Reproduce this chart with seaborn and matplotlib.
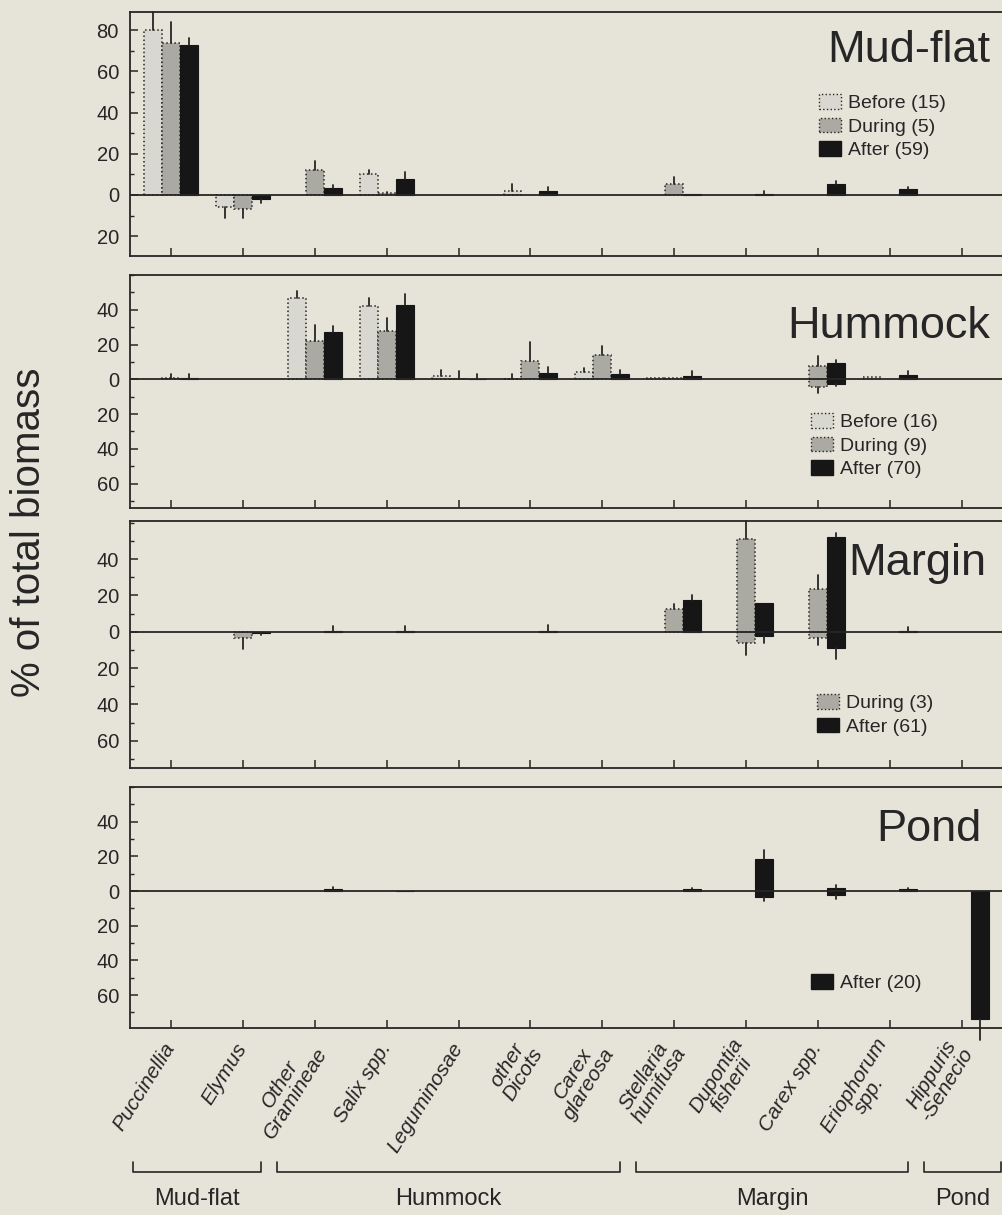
import pandas as pd
import matplotlib
matplotlib.use('Agg')
import matplotlib.pyplot as plt
import matplotlib.transforms as mtransforms
from matplotlib.patches import Patch
from matplotlib.ticker import MultipleLocator, FuncFormatter
import seaborn as sns

# species groups along the x axis
categories = ['Puccinellia', 'Elymus', 'Other\nGramineae', 'Salix spp.', 'Leguminosae',
              'other\nDicots', 'Carex\nglareosa', 'Stellaria\nhumifusa', 'Dupontia\nfisherii',
              'Carex spp.', 'Eriophorum\nspp.', 'Hippuris\n-Senecio']
series_order = ['Before', 'During', 'After']

# habitat groups shown with brackets under the axis (first / last category index)
regions = ['Mud-flat', 'Hummock', 'Margin', 'Pond']
region_first = [0, 2, 7, 11]
region_last = [1, 6, 10, 11]

# Mud-flat panel (values above zero, values below zero, one-sided errors)
mud_up = {'Before': [80, 0, 0, 10, 0, 2, 0, 0, 0, 0, 0, 0],
          'During': [74, 0, 12, 0.8, 0, 0, 0, 5.5, 0, 0, 0, 0],
          'After':  [73, 0, 3.5, 8, 0, 2, 0, 0.5, 0.7, 5.5, 3, 0]}
mud_up_err = {'Before': [9, 0, 0, 2, 0, 3.5, 0, 0, 0, 0, 0, 0],
              'During': [10, 0, 4.5, 0.7, 0, 0, 0, 3, 0, 0, 0, 0],
              'After':  [3, 0, 1.5, 3, 0, 2, 0, 0, 1, 1.5, 1, 0]}
mud_dn = {'Before': [0, 6, 0, 0, 0, 0, 0, 0, 0, 0, 0, 0],
          'During': [0, 7, 0, 0, 0, 0, 0, 0, 0, 0, 0, 0],
          'After':  [0, 2, 0, 0, 0, 0, 0, 0, 0, 0, 0, 0]}
mud_dn_err = {'Before': [0, 5, 0, 0, 0, 0, 0, 0, 0, 0, 0, 0],
              'During': [0, 4, 0, 0, 0, 0, 0, 0, 0, 0, 0, 0],
              'After':  [0, 2, 0, 0, 0, 0, 0, 0, 0, 0, 0, 0]}
mud_legend = ['Before (15)', 'During (5)', 'After (59)']

# Hummock panel
hum_up = {'Before': [0, 0, 47, 42, 2, 0.3, 4.2, 1, 0, 0, 1.5, 0],
          'During': [0.5, 0, 22, 28, 0.2, 10.7, 14, 0.5, 0, 7.5, 0, 0],
          'After':  [1, 0, 27, 43, 0.2, 3.8, 3.3, 2, 0, 9.4, 2.3, 0]}
hum_up_err = {'Before': [0, 0, 4, 5, 3.5, 3, 2.5, 0, 0, 0, 0, 0],
              'During': [2.7, 0, 9, 7, 4.8, 11, 5, 0, 0, 5.7, 0, 0],
              'After':  [2.3, 0, 3.5, 6, 3, 3.2, 2, 2.6, 0, 2, 2.3, 0]}
hum_dn = {'Before': [0, 0, 0, 0, 0, 0, 0, 0, 0, 0, 0, 0],
          'During': [0, 0, 0, 0, 0, 0, 0, 0, 0, 4.4, 0, 0],
          'After':  [0, 0, 0, 0, 0, 0, 0, 0, 0, 2.5, 0, 0]}
hum_dn_err = {'Before': [0, 0, 0, 0, 0, 0, 0, 0, 0, 0, 0, 0],
              'During': [0, 0, 0, 0, 0, 0, 0, 0, 0, 3.3, 0, 0],
              'After':  [0, 0, 0, 0, 0, 0, 0, 0, 0, 1.3, 0, 0]}
hum_legend = ['Before (16)', 'During (9)', 'After (70)']

# Margin panel
mar_up = {'During': [0, 0, 0, 0, 0, 0, 0, 12.4, 51, 23.3, 0, 0],
          'After':  [0, 0, 0.5, 0.5, 0, 0.5, 0, 17.6, 15.8, 52, 0.5, 0]}
mar_up_err = {'During': [0, 0, 0, 0, 0, 0, 0, 3, 10, 8, 0, 0],
              'After':  [0, 0, 2.5, 2.5, 0, 3, 0, 2.8, 0, 2.2, 2, 0]}
mar_dn = {'During': [0, 3.3, 0, 0, 0, 0, 0, 0, 6.4, 3.3, 0, 0],
          'After':  [0, 0.5, 0, 0, 0, 0, 0, 0, 2.4, 8.7, 0, 0]}
mar_dn_err = {'During': [0, 6.3, 0, 0, 0, 0, 0, 0, 6.6, 4, 0, 0],
              'After':  [0, 1.5, 0, 0, 0, 0, 0, 0, 3.6, 6.2, 0, 0]}
mar_legend = ['During (3)', 'After (61)']

# Pond panel
pond_up = {'After': [0, 0, 1.3, 0.3, 0, 0, 0, 1, 18.3, 1.5, 1.2, 0]}
pond_up_err = {'After': [0, 0, 0.8, 0, 0, 0, 0, 0.8, 5.3, 2, 0.8, 0]}
pond_dn = {'After': [0, 0, 0, 0, 0, 0, 0, 0, 3.3, 2.3, 0, 74]}
pond_dn_err = {'After': [0, 0, 0, 0, 0, 0, 0, 0, 2.3, 2.3, 0, 12]}
pond_legend = ['After (20)']

panel_titles = ['Mud-flat', 'Hummock', 'Margin', 'Pond']

sns.set_theme(style='ticks')
plt.rcParams['font.family'] = ['Liberation Sans', 'DejaVu Sans']

BG = '#e6e3d9'
INK = '#262626'
fill = {'Before': '#d9d8d0', 'During': '#aaa9a2', 'After': '#161616'}
offset = {'Before': -0.25, 'During': 0.0, 'After': 0.25}

W, H = 1002, 1215
fig = plt.figure(figsize=(W / 100, H / 100), dpi=100, facecolor=BG)
plt.rcParams['axes.facecolor'] = BG


def px_box(top, bottom, left=130, right=1012):
    return [left / W, 1 - bottom / H, (right - left) / W, (bottom - top) / H]


def long_frame(up, up_err, dn, dn_err):
    rows = []
    for s in up:
        for i, c in enumerate(categories):
            rows.append({'cat': c, 'series': s, 'up': up[s][i], 'up_err': up_err[s][i],
                         'dn': -dn[s][i], 'dn_err': dn_err[s][i]})
    return pd.DataFrame(rows)


def style_bar(p, s):
    if s == 'After':
        p.set_edgecolor(fill['After'])
        p.set_linewidth(0.8)
        return
    p.set_edgecolor(INK)
    p.set_linestyle(':')
    p.set_linewidth(1.1)
    if s == 'During' and hasattr(p, 'set_hatchcolor'):
        p.set_hatch('.....')
        p.set_hatchcolor('#8c8a83')


def draw_panel(ax, df, ylim, yticks):
    for col, sign in [('up', 1), ('dn', -1)]:
        sub = df[df[col] != 0]
        if sub.empty:
            continue
        n0 = len(ax.patches)
        sns.barplot(data=sub, x='cat', y=col, hue='series', order=categories,
                    hue_order=series_order, palette=fill, width=0.75, saturation=1,
                    dodge=True, errorbar=None, legend=False, ax=ax, zorder=3)
        for p in ax.patches[n0:]:
            cx = p.get_x() + p.get_width() / 2
            k = int(round((cx - round(cx)) / 0.25))
            style_bar(p, series_order[k + 1])
        # one-sided error bars
        for _, r in sub.iterrows():
            if r[col + '_err'] > 0:
                x = categories.index(r['cat']) + offset[r['series']]
                ax.plot([x, x], [r[col], r[col] + sign * r[col + '_err']],
                        color=INK, lw=1.3, zorder=4, clip_on=False)
    ax.axhline(0, color=INK, lw=1.3, zorder=5)
    ax.set_xlim(-0.572, 11.7)
    ax.set_ylim(*ylim)
    ax.set_xticks(range(len(categories)))
    ax.set_yticks(yticks)
    ax.yaxis.set_minor_locator(MultipleLocator(10))
    ax.yaxis.set_major_formatter(FuncFormatter(lambda v, pos: '%d' % abs(v)))
    ax.tick_params(axis='both', which='major', direction='in', length=6, width=1.1,
                   color=INK, labelsize=14.5, labelcolor=INK)
    ax.tick_params(axis='y', which='minor', direction='in', length=3, width=1, color=INK)
    ax.tick_params(axis='y', pad=8)
    ax.set_xlabel('')
    ax.set_ylabel('')
    for sp in ax.spines.values():
        sp.set_color(INK)
        sp.set_linewidth(1.3)


panels = [
    (mud_up, mud_up_err, mud_dn, mud_dn_err, mud_legend, (12, 256), (-29.6, 88.8), [-20, 0, 20, 40, 60, 80]),
    (hum_up, hum_up_err, hum_dn, hum_dn_err, hum_legend, (275, 508), (-74, 60), [-60, -40, -20, 0, 20, 40]),
    (mar_up, mar_up_err, mar_dn, mar_dn_err, mar_legend, (521, 768), (-75, 61), [-60, -40, -20, 0, 20, 40]),
    (pond_up, pond_up_err, pond_dn, pond_dn_err, pond_legend, (787, 1028), (-79, 60), [-60, -40, -20, 0, 20, 40]),
]
title_px = [(990, 62), (990, 338), (986, 575), (981, 841)]
legend_px = [(819, 94), (811, 413), (817, 694), (811, 974)]

axes = []
for i, (up, ue, dn, de, leg, (top, bot), ylim, yt) in enumerate(panels):
    ax = fig.add_axes(px_box(top, bot))
    draw_panel(ax, long_frame(up, ue, dn, de), ylim, yt)
    fig.text(title_px[i][0] / W, 1 - title_px[i][1] / H, panel_titles[i], ha='right',
             va='baseline', fontsize=32.5, color=INK)
    handles = []
    for lab in leg:
        s = lab.split(' ')[0]
        h = Patch(facecolor=fill[s], edgecolor=INK if s != 'After' else fill[s],
                  linestyle=':' if s != 'After' else '-', linewidth=1)
        handles.append(h)
    ax.legend(handles, leg, loc='upper left', bbox_to_anchor=(legend_px[i][0] / W, 1 - legend_px[i][1] / H),
              bbox_transform=fig.transFigure, frameon=False, fontsize=14, borderpad=0,
              borderaxespad=0, handlelength=1.15, handleheight=0.78, handletextpad=0.35,
              labelspacing=0.28, labelcolor=INK)
    if i < 3:
        ax.tick_params(axis='x', labelbottom=False)
    axes.append(ax)

ax4 = axes[-1]
ax4.set_xticks(range(len(categories)))
ax4.set_xticklabels(categories, rotation=58, ha='right', va='center', rotation_mode='anchor',
                    fontsize=15, style='italic', multialignment='center', linespacing=0.95,
                    color=INK)
ax4.tick_params(axis='x', which='major', pad=12)

# habitat brackets under the axis
trans = mtransforms.blended_transform_factory(ax4.transData, fig.transFigure)
y_line = 1 - 1172 / H
y_end = 1 - 1162 / H
y_txt = 1 - 1199 / H
for name, a, b in zip(regions, region_first, region_last):
    x0, x1 = a - 0.53, b + 0.25
    if a == b:
        x1 = b + 0.55
    ax4.plot([x0, x0, x1, x1], [y_end, y_line, y_line, y_end], color=INK, lw=1.2,
             transform=trans, clip_on=False)
    ax4.text((x0 + x1) / 2, y_txt, name, transform=trans, ha='center', va='center',
             fontsize=17, color=INK, clip_on=False)

fig.text(29 / W, 1 - 532 / H, '% of total biomass', rotation=90, ha='center', va='center',
         fontsize=29, color=INK)

fig.savefig('out.png', dpi=100, facecolor=BG)
